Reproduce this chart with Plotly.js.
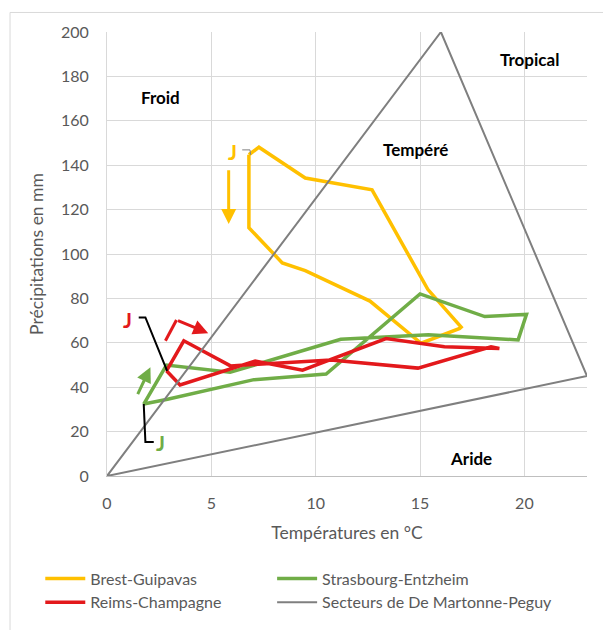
<!DOCTYPE html>
<html>
<head>
<meta charset="utf-8">
<script src="https://cdn.plot.ly/plotly-3.0.1.min.js"></script>
<style>
  html, body { margin: 0; padding: 0; background: #ffffff; }
  #chart { width: 603px; height: 630px; }
</style>
</head>
<body>
<div id="chart"></div>
<script>
// ---- Data ----
// Monthly climate points: Jan ... Dec, then Jan again to close the loop
const brestT = [6.8, 6.8, 8.4, 9.5, 12.6, 15.05, 16.9, 16.97, 15.37, 12.7, 9.5, 7.28, 6.8];
const brestP = [144.7, 111.8, 96.0, 92.5, 78.8, 59.8, 66.5, 67.1, 84.1, 128.9, 134.2, 148.1, 144.7];

const strasT = [1.76, 2.9, 7.04, 10.5, 15.0, 18.1, 20.1, 19.7, 15.4, 11.2, 5.9, 2.85, 1.76];
const strasP = [32.4, 34.6, 43.4, 45.9, 82.0, 71.8, 72.8, 61.3, 63.6, 61.6, 46.7, 50.0, 32.4];

const reimsT = [2.85, 3.5, 7.1, 9.37, 13.37, 16.17, 18.8, 18.4, 14.9, 10.73, 5.92, 3.68, 2.85];
const reimsP = [47.4, 41.0, 51.8, 47.7, 61.9, 58.2, 57.4, 58.2, 48.6, 52.3, 49.6, 60.9, 47.4];

// De Martonne-Peguy sector triangle
const sectorT = [0, 16, 23, 0];
const sectorP = [0, 200, 45, 0];

const seriesNames = ["Brest-Guipavas", "Strasbourg-Entzheim", "Reims-Champagne", "Secteurs de De Martonne-Peguy"];
const xTickVals = [0, 5, 10, 15, 20];
const yTickVals = [0, 20, 40, 60, 80, 100, 120, 140, 160, 180, 200];

const regionLabels = ["Froid", "Tempéré", "Tropical", "Aride"];
const regionX = [2.56, 14.8, 20.25, 17.45];
const regionY = [170.4, 147.2, 187.7, 7.8];

// ---- Styles ----
const cYellow = "#ffc000";
const cGreen = "#70ad47";
const cRed = "#e3191c";
const cGray = "#7f7f7f";
const FONT = "Lato, 'Open Sans', sans-serif";
const txtGray = "#595959";

const traces = [
  { x: brestT, y: brestP, name: seriesNames[0], mode: "lines", legend: "legend", line: { color: cYellow, width: 3.5 } },
  { x: strasT, y: strasP, name: seriesNames[1], mode: "lines", legend: "legend2", line: { color: cGreen, width: 3.5 } },
  { x: reimsT, y: reimsP, name: seriesNames[2], mode: "lines", legend: "legend", line: { color: cRed, width: 3.5 } },
  { x: sectorT, y: sectorP, name: seriesNames[3], mode: "lines", legend: "legend2", line: { color: cGray, width: 2 } }
];

const annotations = [];
for (let i = 0; i < regionLabels.length; i++) {
  annotations.push({
    x: regionX[i], y: regionY[i], xref: "x", yref: "y", text: regionLabels[i],
    showarrow: false, font: { family: FONT, size: 17, color: "#000000", weight: 700 }
  });
}
// "J" (January) markers
annotations.push({ x: 6.0, y: 146.1, xref: "x", yref: "y", text: "J", showarrow: false,
  font: { family: FONT, size: 21, color: cYellow, weight: 700 } });
annotations.push({ x: 0.96, y: 70.6, xref: "x", yref: "y", text: "J", showarrow: false,
  font: { family: FONT, size: 21, color: cRed, weight: 700 } });
annotations.push({ x: 2.56, y: 14.9, xref: "x", yref: "y", text: "J", showarrow: false,
  font: { family: FONT, size: 21, color: cGreen, weight: 700 } });
// direction arrows
annotations.push({ x: 5.83, y: 113.5, ax: 5.83, ay: 138.4, xref: "x", yref: "y", axref: "x", ayref: "y",
  text: "", showarrow: true, arrowhead: 2, arrowsize: 1, arrowwidth: 3, arrowcolor: cYellow });
annotations.push({ x: 2.08, y: 49.0, ax: 1.44, ay: 36.2, xref: "x", yref: "y", axref: "x", ayref: "y",
  text: "", showarrow: true, arrowhead: 2, arrowsize: 1, arrowwidth: 3, arrowcolor: cGreen });
annotations.push({ x: 4.85, y: 64.3, ax: 3.33, ay: 70.3, xref: "x", yref: "y", axref: "x", ayref: "y",
  text: "", showarrow: true, arrowhead: 2, arrowsize: 1, arrowwidth: 3, arrowcolor: cRed });

const shapes = [
  // outer chart border
  { type: "rect", xref: "paper", yref: "paper", x0: -0.202, x1: 1.1, y0: -0.4, y1: 1.044,
    line: { color: "#d9d9d9", width: 1 }, layer: "below" },
  // red arrow first segment
  { type: "line", xref: "x", yref: "y", x0: 2.8, y0: 60.9, x1: 3.33, y1: 70.3, line: { color: cRed, width: 3 } },
  // connectors from the J labels
  { type: "path", xref: "x", yref: "y", path: "M1.52,71.4 L1.84,71.4 L2.88,47.4", line: { color: "#000000", width: 2 } },
  { type: "path", xref: "x", yref: "y", path: "M1.76,32.4 L1.84,15.3 L2.24,15.3", line: { color: "#000000", width: 2 } },
  { type: "path", xref: "x", yref: "y", path: "M6.48,146.9 L6.85,146.9 L6.88,144.7", line: { color: "#808080", width: 1 } }
];

const legendCommon = {
  orientation: "v", xanchor: "left", y: -0.19, yanchor: "top", itemwidth: 40, tracegroupgap: 0,
  font: { family: FONT, size: 16, color: txtGray }, bgcolor: "rgba(0,0,0,0)"
};

const layout = {
  width: 603, height: 630,
  margin: { l: 107, r: 16, t: 32, b: 153 },
  paper_bgcolor: "#ffffff", plot_bgcolor: "#ffffff",
  font: { family: FONT, size: 16, color: txtGray },
  showlegend: true,
  legend: Object.assign({}, legendCommon, { x: -0.139 }),
  legend2: Object.assign({}, legendCommon, { x: 0.344 }),
  xaxis: {
    range: [0, 23], tickvals: xTickVals, showgrid: true, gridcolor: "#d9d9d9", gridwidth: 1,
    zeroline: false, showline: true, linecolor: "#bfbfbf", linewidth: 1,
    ticks: "outside", ticklen: 13, tickcolor: "rgba(0,0,0,0)",
    tickfont: { family: FONT, size: 16, color: txtGray },
    title: { text: "Températures en °C", standoff: 15, font: { family: FONT, size: 17.5, color: txtGray } }
  },
  yaxis: {
    range: [0, 200], tickvals: yTickVals, showgrid: true, gridcolor: "#d9d9d9", gridwidth: 1,
    zeroline: false, showline: true, linecolor: "#d9d9d9", linewidth: 1,
    ticks: "outside", ticklen: 14, tickcolor: "rgba(0,0,0,0)",
    tickfont: { family: FONT, size: 16, color: txtGray },
    title: { text: "Précipitations en mm", standoff: 12, font: { family: FONT, size: 17.5, color: txtGray } }
  },
  annotations: annotations,
  shapes: shapes
};

Plotly.newPlot("chart", traces, layout, { staticPlot: true, displayModeBar: false });
</script>
</body>
</html>
